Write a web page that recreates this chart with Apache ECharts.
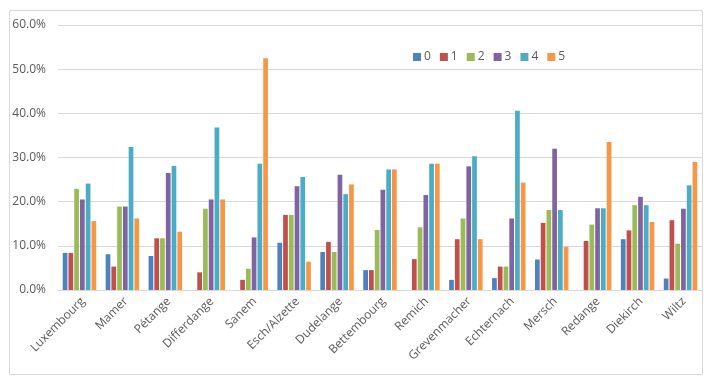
<!DOCTYPE html>
<html>
<head>
<meta charset="utf-8">
<script src="https://cdn.jsdelivr.net/npm/echarts@6/dist/echarts.min.js"></script>
<style>html,body{margin:0;padding:0;background:#fff}#c{width:714px;height:390px}</style>
</head>
<body>
<div id="c"></div>
<script>
const categories = ['Luxembourg','Mamer','Pétange','Differdange','Sanem','Esch/Alzette','Dudelange','Bettembourg','Remich','Grevenmacher','Echternach','Mersch','Redange','Diekirch','Wiltz'];
const seriesNames = ['0','1','2','3','4','5'];
const s0 = [8.4, 8.1, 7.7, 0, 0, 10.7, 8.6, 4.5, 0, 2.3, 2.7, 6.9, 0, 11.5, 2.6];
const s1 = [8.4, 5.3, 11.7, 4.0, 2.3, 17.0, 10.9, 4.5, 7.0, 11.5, 5.3, 15.2, 11.1, 13.5, 15.8];
const s2 = [22.9, 18.9, 11.7, 18.4, 4.8, 17.0, 8.6, 13.6, 14.2, 16.2, 5.3, 18.1, 14.8, 19.2, 10.5];
const s3 = [20.5, 18.9, 26.5, 20.5, 11.9, 23.5, 26.1, 22.7, 21.5, 28.0, 16.2, 32.0, 18.5, 21.1, 18.4];
const s4 = [24.1, 32.4, 28.1, 36.8, 28.6, 25.6, 21.7, 27.3, 28.6, 30.3, 40.6, 18.1, 18.5, 19.2, 23.7];
const s5 = [15.6, 16.2, 13.2, 20.5, 52.5, 6.4, 23.9, 27.3, 28.6, 11.5, 24.3, 9.8, 33.5, 15.4, 29.0];
const yTicks = [0, 10, 20, 30, 40, 50, 60];
const colors = ['#4F81BD','#C0504D','#9BBB59','#8064A2','#4BACC6','#F79646'];
const allSeries = [s0, s1, s2, s3, s4, s5];

const chart = echarts.init(document.getElementById('c'), null, {renderer: 'canvas'});
const font = 'Open Sans';
chart.setOption({
  animation: false,
  color: colors,
  graphic: [{
    type: 'rect', shape: {x: 9.5, y: 10.5, width: 693, height: 364},
    style: {fill: 'none', stroke: '#d9d9d9', lineWidth: 1}, z: -1
  }],
  legend: {
    left: 408, top: 46,
    itemWidth: 8, itemHeight: 8, itemGap: 9,
    icon: 'rect',
    textStyle: {color: '#595959', fontSize: 12, fontFamily: font, padding: [0,0,0,-2]},
    data: seriesNames
  },
  grid: {left: 58, right: 12, top: 25, bottom: 100, containLabel: false},
  xAxis: {
    type: 'category', data: categories,
    axisLine: {lineStyle: {color: '#d9d9d9'}},
    axisTick: {show: false},
    axisLabel: {rotate: 45, color: '#595959', fontSize: 12, fontFamily: font, margin: 13, interval: 0, padding: [10, -5, 0, 0]}
  },
  yAxis: {
    type: 'value', min: yTicks[0], max: yTicks[yTicks.length-1], interval: 10,
    axisLine: {show: false}, axisTick: {show: false},
    splitLine: {lineStyle: {color: '#d9d9d9'}},
    axisLabel: {formatter: v => v.toFixed(1) + '%', color: '#595959', fontSize: 12, fontFamily: font, margin: 12}
  },
  series: seriesNames.map((n, i) => ({
    name: n, type: 'bar', data: allSeries[i],
    barGap: '22%', barCategoryGap: '22%'
  }))
});
</script>
</body>
</html>
